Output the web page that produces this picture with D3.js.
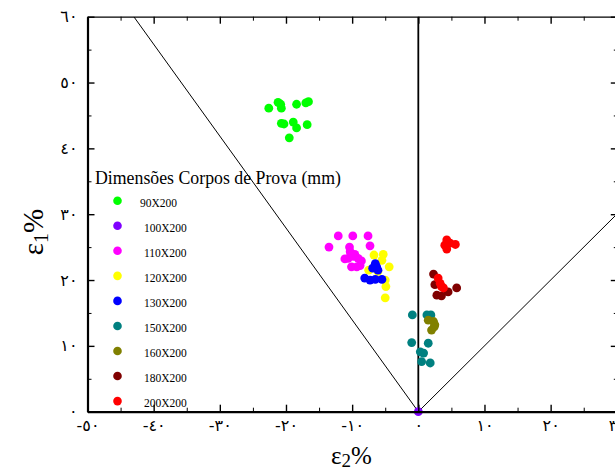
<!DOCTYPE html>
<html lang="pt">
<head>
<meta charset="UTF-8">
<title>Dimensões Corpos de Prova</title>
<style>
  body { margin: 0; background: #fff; }
  svg { display: block; }
</style>
</head>
<body>
<div class="canvas"></div>
<script src="https://cdnjs.cloudflare.com/ajax/libs/d3/7.8.5/d3.min.js"></script>
<script>
// tick values
const xTicks = [-50, -40, -30, -20, -10, 0, 10, 20, 30];
const xMinor = [-45, -35, -25, -15, -5, 5, 15, 25];
const yTicks = [0, 10, 20, 30, 40, 50, 60];
const yMinor = [5, 15, 25, 35, 45, 55];

// legend
const sizes = ['90X200', '100X200', '110X200', '120X200', '130X200', '150X200', '160X200', '180X200', '200X200'];
const colors = ['#00ff00', '#8000ff', '#ff00ff', '#ffff00', '#0000ff', '#008080', '#808000', '#800000', '#ff0000'];

// [eps2, eps1] per specimen size
const s90 = [[-22.6, 46.1], [-21.2, 47.0], [-20.8, 46.7], [-20.7, 46.1], [-18.4, 46.7], [-17.0, 46.9], [-16.6, 47.1],
  [-20.7, 43.8], [-20.3, 43.7], [-18.9, 44.0], [-18.4, 43.1], [-16.8, 43.6], [-19.5, 41.6]];
const s100 = [[0, 0]];
const s110 = [[-12.1, 26.7], [-9.9, 26.7], [-7.6, 26.7], [-13.5, 25.0], [-10.4, 25.0], [-10.3, 24.3], [-11.1, 23.2],
  [-10.6, 23.3], [-9.6, 23.9], [-9.1, 23.3], [-8.6, 22.9], [-10.1, 22.0], [-9.3, 22.0], [-8.8, 22.2], [-7.3, 25.2], [-9.8, 23.6]];
const s120 = [[-6.7, 23.8], [-5.3, 23.9], [-4.4, 22.0], [-7.5, 21.5], [-6.1, 21.3], [-5.0, 20.0], [-4.9, 19.0], [-5.0, 17.3], [-5.5, 23.0]];
const s130 = [[-6.5, 22.5], [-6.3, 22.0], [-6.1, 21.5], [-8.1, 20.3], [-7.3, 20.0], [-6.5, 20.1], [-5.5, 20.1], [-6.9, 21.8]];
const s150 = [[-0.9, 14.7], [1.3, 14.7], [1.9, 14.7], [-1.0, 10.5], [1.5, 10.4], [0.3, 9.1], [0.8, 8.9], [0.5, 7.6], [1.8, 7.4]];
const s160 = [[1.5, 13.9], [2.3, 13.7], [2.5, 13.2], [2.0, 12.4], [2.4, 12.9]];
const s180 = [[2.3, 20.9], [2.5, 19.3], [2.8, 17.7], [3.5, 17.6], [4.5, 18.2], [5.8, 18.8]];
const s200 = [[4.3, 26.1], [4.0, 25.3], [4.8, 25.6], [5.6, 25.4], [4.3, 24.7], [3.0, 20.3], [3.3, 19.5], [3.5, 19.0], [3.8, 18.8]];
const allSeries = [s90, s100, s110, s120, s130, s150, s160, s180, s200];

// reference lines
const lineLeft = [[0, 0], [-43, 60]];
const lineRight = [[0, 0], [30, 30]];
const lineAxis = [[0, 0], [0, 60]];

const width = 615;
const height = 475;
const margin = { top: 16.7, left: 87.5, bottom: 63.3, right: -1.8 };

const svg = d3.select('.canvas').append('svg')
  .attr('width', width)
  .attr('height', height);

const x = d3.scaleLinear().domain([-50, 30]).range([margin.left, width - margin.right]);
const y = d3.scaleLinear().domain([0, 60]).range([height - margin.bottom, margin.top]);

const arDigits = '٠١٢٣٤٥٦٧٨٩';
const toAr = d => (d < 0 ? '-' : '') + String(Math.abs(d)).replace(/\d/g, c => arDigits[c]);

const plot = svg.append('g');
plot.append('clipPath').attr('id', 'clip')
  .append('rect')
  .attr('x', x(-50)).attr('y', y(60))
  .attr('width', x(30) - x(-50)).attr('height', y(0) - y(60));

const line = d3.line().x(d => x(d[0])).y(d => y(d[1]));
const lines = plot.append('g').attr('clip-path', 'url(#clip)').attr('fill', 'none').attr('stroke', '#000');
lines.append('path').attr('d', line(lineLeft)).attr('stroke-width', 1);
lines.append('path').attr('d', line(lineRight)).attr('stroke-width', 1);
lines.append('path').attr('d', line(lineAxis)).attr('stroke-width', 1.8);

// points
allSeries.forEach((pts, i) => {
  plot.append('g').selectAll('circle')
    .data(pts)
    .enter().append('circle')
    .attr('cx', d => x(d[0]))
    .attr('cy', d => y(d[1]))
    .attr('r', 4.4)
    .attr('fill', colors[i]);
});

// axes
function styleAxis(g, w) {
  g.attr('font-family', 'DejaVu Sans').attr('font-size', 16);
  g.select('.domain').attr('stroke-width', w);
  g.selectAll('.tick line').attr('stroke-width', 1.4);
  g.selectAll('.tick text').attr('fill', '#000');
}

const xAxisGroup = svg.append('g').attr('transform', `translate(0, ${y(0)})`)
  .call(d3.axisBottom(x).tickValues(xTicks).tickFormat(toAr).tickSizeInner(-7).tickSizeOuter(0).tickPadding(8));
styleAxis(xAxisGroup, 2.2);
svg.append('g').attr('transform', `translate(0, ${y(0)})`)
  .call(d3.axisBottom(x).tickValues(xMinor).tickFormat('').tickSizeInner(-4).tickSizeOuter(0))
  .call(g => g.select('.domain').remove());

const yAxisGroup = svg.append('g').attr('transform', `translate(${x(-50)}, 0)`)
  .call(d3.axisLeft(y).tickValues(yTicks).tickFormat(toAr).tickSizeInner(-7).tickSizeOuter(0).tickPadding(10));
styleAxis(yAxisGroup, 2.2);
svg.append('g').attr('transform', `translate(${x(-50)}, 0)`)
  .call(d3.axisLeft(y).tickValues(yMinor).tickFormat('').tickSizeInner(-4).tickSizeOuter(0))
  .call(g => g.select('.domain').remove());

const topGroup = svg.append('g').attr('transform', `translate(0, ${y(60)})`)
  .call(d3.axisTop(x).tickValues(xTicks).tickFormat('').tickSizeInner(-7).tickSizeOuter(0));
styleAxis(topGroup, 1.2);
svg.append('g').attr('transform', `translate(0, ${y(60)})`)
  .call(d3.axisTop(x).tickValues(xMinor).tickFormat('').tickSizeInner(-4).tickSizeOuter(0))
  .call(g => g.select('.domain').remove());

const rightGroup = svg.append('g').attr('transform', `translate(${x(30)}, 0)`)
  .call(d3.axisRight(y).tickValues(yTicks).tickFormat('').tickSizeInner(-6).tickSizeOuter(0));
styleAxis(rightGroup, 1.2);
svg.append('g').attr('transform', `translate(${x(30)}, 0)`)
  .call(d3.axisRight(y).tickValues(yMinor).tickFormat('').tickSizeInner(-3).tickSizeOuter(0))
  .call(g => g.select('.domain').remove());

// axis titles
const xTitle = svg.append('text')
  .attr('x', 331).attr('y', 464)
  .attr('font-family', 'Liberation Serif').attr('font-size', 25).attr('fill', '#000');
xTitle.append('tspan').text('ε');
xTitle.append('tspan').attr('font-size', 19).attr('dy', 3).text('2');
xTitle.append('tspan').attr('dy', -3).text('%');

const yTitle = svg.append('text')
  .attr('transform', 'translate(43, 232) rotate(-90)')
  .attr('text-anchor', 'middle')
  .attr('font-family', 'Liberation Serif').attr('font-size', 29).attr('fill', '#000');
yTitle.append('tspan').text('ε');
yTitle.append('tspan').attr('font-size', 20).attr('dy', 5).text('1');
yTitle.append('tspan').attr('dy', -5).text('%');

// legend
const legend = svg.append('g');
legend.append('text')
  .attr('x', 95).attr('y', 184)
  .attr('font-family', 'Liberation Serif').attr('font-size', 17.8).attr('fill', '#000')
  .text('Dimensões Corpos de Prova (mm)');

const items = legend.selectAll('.item')
  .data(sizes)
  .enter().append('g')
  .attr('class', 'item')
  .attr('transform', (d, i) => `translate(117.5, ${200.7 + i * 25.05})`);
items.append('circle').attr('r', 4.3).attr('fill', (d, i) => colors[i]);
items.append('text')
  .attr('x', (d, i) => i === 0 ? 22.5 : 26.5)
  .attr('y', 6)
  .attr('font-family', 'Liberation Serif').attr('font-size', 11.5).attr('fill', '#000')
  .text(d => d);
</script>
</body>
</html>
